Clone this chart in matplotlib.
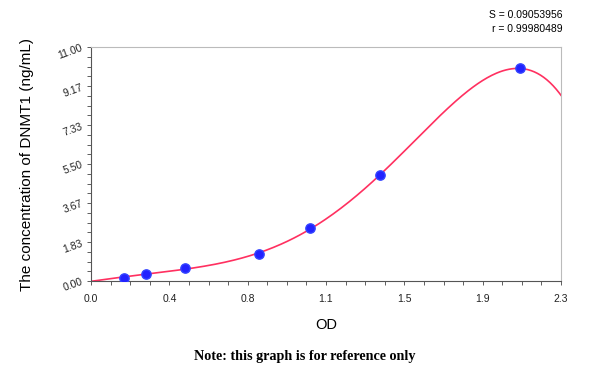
import numpy as np
import matplotlib
matplotlib.use("Agg")
import matplotlib.pyplot as plt
from matplotlib.ticker import FixedLocator, MultipleLocator

# standard points (origin is used as an extra fit point)
od = [0.160, 0.268, 0.459, 0.824, 1.072, 1.416, 2.098]
conc = [0.156, 0.312, 0.625, 1.25, 2.5, 5.0, 10.0]

x_ticks = [0.0, 0.4, 0.8, 1.1, 1.5, 1.9, 2.3]
y_ticks = ["0.00", "1.83", "3.67", "5.50", "7.33", "9.17", "11.00"]
fit_stats = ["S = 0.09053956", "r = 0.99980489"]

plt.rcParams['font.family'] = ['Liberation Sans', 'DejaVu Sans']

fig = plt.figure(figsize=(6, 3.7), dpi=100)
ax = fig.add_axes([0.1517, 0.2405, 0.7833, 0.632])

# polynomial fit through the standards
coef = np.polyfit([0.0] + od, [0.0] + conc, 5)
xs = np.linspace(0, 2.3, 300)
ax.plot(xs, np.polyval(coef, xs), color='#ff3060', lw=1.2, zorder=2)
ax.scatter(od, conc, s=45, color='#2222ff', edgecolors='#3344ff', zorder=3)

ax.set_xlim(0, 2.3)
ax.set_ylim(0, 11)
xpos = np.linspace(0, 2.3, len(x_ticks))
ypos = np.linspace(0, 11, len(y_ticks))
ax.xaxis.set_major_locator(FixedLocator(xpos))
ax.yaxis.set_major_locator(FixedLocator(ypos))
ax.set_xticklabels([f"{v:.1f}" for v in x_ticks])
ax.set_yticklabels(y_ticks, rotation=20)
ax.xaxis.set_minor_locator(MultipleLocator(2.3 / 24))
ax.yaxis.set_minor_locator(MultipleLocator(11 / 24))
ax.tick_params(which='both', direction='out', length=3, width=0.6, color='#444444',
               labelsize=7.5, labelcolor='#222222')
ax.tick_params(axis='x', pad=6)
ax.tick_params(axis='y', pad=2)

for side in ['left', 'bottom']:
    ax.spines[side].set_color('#555555')
    ax.spines[side].set_linewidth(0.8)
for side in ['top', 'right']:
    ax.spines[side].set_color('#bbbbbb')
    ax.spines[side].set_linewidth(0.8)

ax.set_xlabel('OD', fontsize=10.5, va='center')
ax.xaxis.set_label_coords(0.5, -0.188)
ax.set_ylabel('The concentration of DNMT1 (ng/mL)', fontsize=11, va='center')
ax.yaxis.set_label_coords(-0.137, 0.5)

fig.text(0.937, 0.959, fit_stats[0], ha='right', va='center', fontsize=7.5)
fig.text(0.937, 0.922, fit_stats[1], ha='right', va='center', fontsize=7.5)
fig.text(0.508, 0.036, 'Note: this graph is for reference only', ha='center', va='center',
         fontsize=10.2, fontweight='bold', family=['Liberation Serif', 'DejaVu Serif'])

fig.savefig('out.png', dpi=100)
